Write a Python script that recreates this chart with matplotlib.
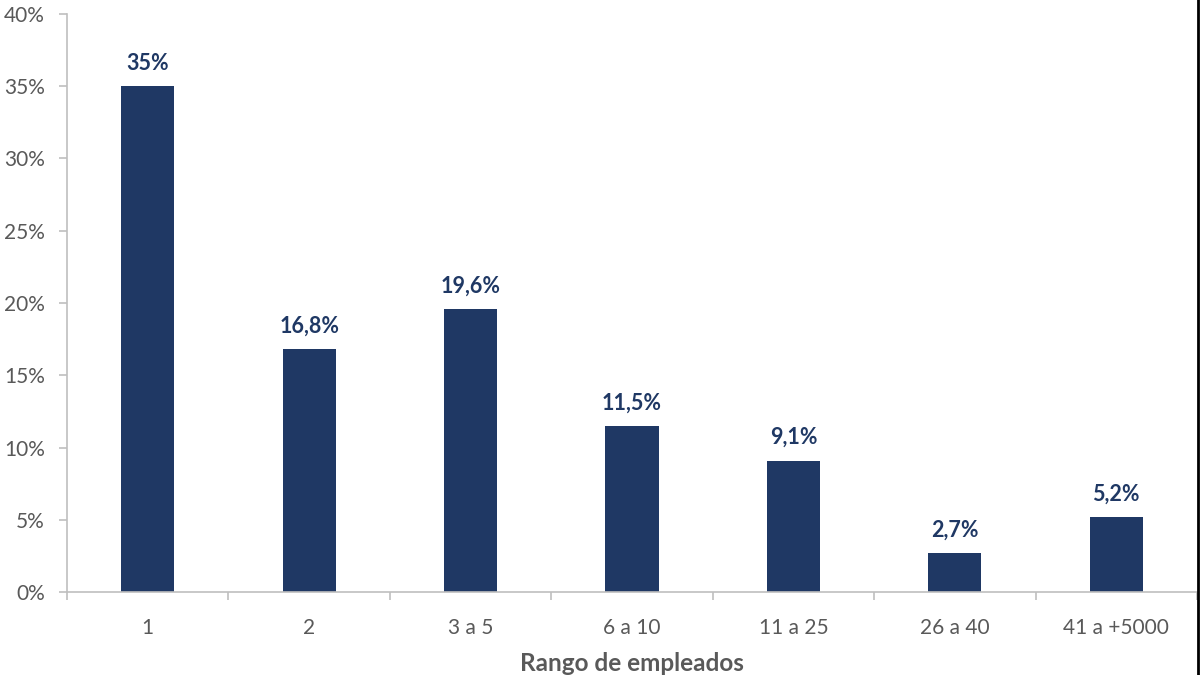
import matplotlib
matplotlib.use('Agg')
import matplotlib.pyplot as plt
from matplotlib.lines import Line2D
import numpy as np

categories = ['1', '2', '3 a 5', '6 a 10', '11 a 25', '26 a 40', '41 a +5000']
values = [35.0, 16.8, 19.6, 11.5, 9.1, 2.7, 5.2]
labels = ['35%', '16,8%', '19,6%', '11,5%', '9,1%', '2,7%', '5,2%']
y_ticks = [0, 5, 10, 15, 20, 25, 30, 35, 40]

navy = '#1F3864'
gray_text = '#595959'
axis_gray = '#BFBFBF'

plt.rcParams['font.family'] = ['Lato', 'DejaVu Sans']


def main():
    fig = plt.figure(figsize=(12, 6.75), dpi=100)
    ax = fig.add_axes([67 / 1200, 1 - 592 / 675, (1197 - 67) / 1200, (592 - 14) / 675])

    x = np.arange(len(categories))
    ax.bar(x, values, width=0.33, color=navy, zorder=2)

    for xi, v, lab in zip(x, values, labels):
        ax.annotate(lab, (xi, v), xytext=(0, 9), textcoords='offset points',
                    ha='center', va='bottom', fontsize=15.5, fontweight='bold', color=navy)

    ax.set_xlim(-0.5, len(categories) - 0.5)
    ax.set_ylim(0, 40)
    ax.set_yticks(y_ticks)
    ax.set_yticklabels([f'{t}%' for t in y_ticks])

    # category labels between boundary ticks
    ax.set_xticks(np.arange(-0.5, len(categories), 1.0))
    ax.set_xticklabels([])
    ax.set_xticks(x, minor=True)
    ax.set_xticklabels(categories, minor=True)
    ax.tick_params(axis='x', which='minor', length=0, pad=19, labelsize=15, labelcolor=gray_text)
    ax.tick_params(axis='x', which='major', length=6, width=1.2, color=axis_gray)
    ax.tick_params(axis='y', length=6, width=1.2, color=axis_gray, labelsize=15,
                   labelcolor=gray_text, pad=10)

    for side in ['top', 'right']:
        ax.spines[side].set_visible(False)
    for side in ['left', 'bottom']:
        ax.spines[side].set_color(axis_gray)
        ax.spines[side].set_linewidth(1.2)

    ax.set_xlabel('Rango de empleados', fontsize=17.5, fontweight='bold', color=gray_text, labelpad=10)

    # dark border at right edge of the screenshot
    fig.add_artist(Line2D([0.9985, 0.9985], [0, 1], transform=fig.transFigure, color='black', lw=2))

    fig.savefig('out.png', dpi=100)


if __name__ == '__main__':
    main()
